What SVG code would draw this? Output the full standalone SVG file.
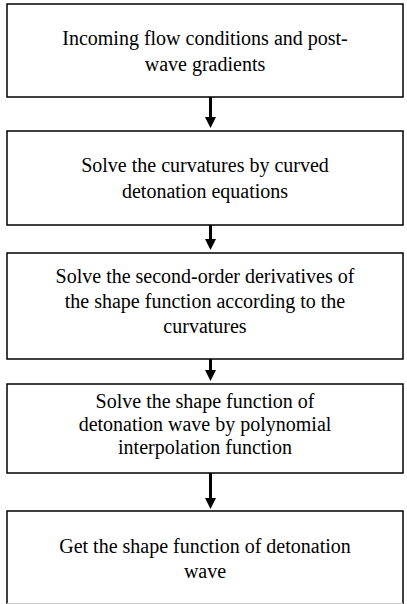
<svg xmlns="http://www.w3.org/2000/svg" width="407" height="604" viewBox="0 0 407 604">
<defs>
<marker id="ah" markerWidth="11" markerHeight="11" refX="6" refY="5.5" orient="auto" markerUnits="userSpaceOnUse">
<path d="M0,0 L11,5.5 L0,11 Z" fill="#000"/>
</marker>
<style>
.box{fill:#fff;stroke:#000;stroke-width:1.5}
.t{font-size:20px;fill:#000;text-anchor:middle}
.c{stroke:#000;stroke-width:3;fill:none}
</style>
</defs>
<rect width="407" height="604" fill="#fff"/>
<g id="connectors">
<line class="c" x1="210.5" y1="97" x2="210.5" y2="123" marker-end="url(#ah)"/>
<line class="c" x1="210.5" y1="225" x2="210.5" y2="245" marker-end="url(#ah)"/>
<line class="c" x1="210.5" y1="359" x2="210.5" y2="376" marker-end="url(#ah)"/>
<line class="c" x1="210.5" y1="473" x2="210.5" y2="504" marker-end="url(#ah)"/>
</g>
<g font-family="'Liberation Serif', 'Times New Roman', Times, serif">
<g id="n1">
<rect class="box" x="7" y="4" width="396" height="93"/>
<text class="t" x="205" y="45">Incoming flow conditions and post-</text>
<text class="t" x="205" y="71">wave gradients</text>
</g>
<g id="n2">
<rect class="box" x="7" y="131" width="396" height="94"/>
<text class="t" x="205" y="172">Solve the curvatures by curved</text>
<text class="t" x="205" y="198">detonation equations</text>
</g>
<g id="n3">
<rect class="box" x="7" y="253" width="396" height="106"/>
<text class="t" x="205" y="283">Solve the second-order derivatives of</text>
<text class="t" x="205" y="308">the shape function according to the</text>
<text class="t" x="205" y="333">curvatures</text>
</g>
<g id="n4">
<rect class="box" x="7" y="384" width="396" height="89"/>
<text class="t" x="205" y="408">Solve the shape function of</text>
<text class="t" x="205" y="431">detonation wave by polynomial</text>
<text class="t" x="205" y="454">interpolation function</text>
</g>
<g id="n5">
<rect class="box" x="7" y="511" width="396" height="110"/>
<line x1="7" y1="603.5" x2="403" y2="603.5" stroke="#c8c8c8" stroke-width="1"/>
<text class="t" x="205" y="553">Get the shape function of detonation</text>
<text class="t" x="205" y="578">wave</text>
</g>
</g>
</svg>
